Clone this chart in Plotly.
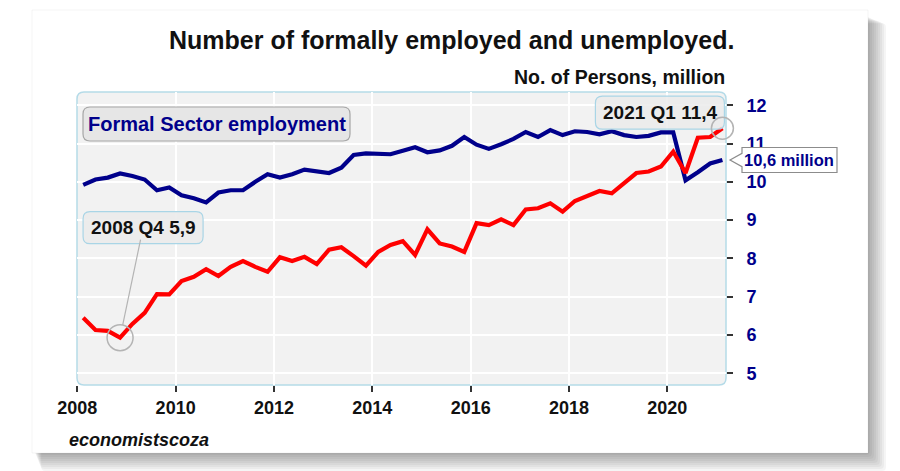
import plotly.graph_objects as go

# quarterly data, 2008 Q1 .. 2021 Q1 (million persons)
periods = [f"{y} Q{q}" for y in range(2008, 2022) for q in range(1, 5)][:53]

formal_employment = [
    9.92, 10.06, 10.11, 10.22,
    10.15, 10.06, 9.78, 9.85,
    9.65, 9.57, 9.46, 9.72,
    9.78, 9.78, 10.00, 10.20,
    10.11, 10.20, 10.32, 10.28,
    10.23, 10.37, 10.70, 10.74,
    10.74, 10.72, 10.81, 10.90,
    10.77, 10.82, 10.94, 11.17,
    10.97, 10.86, 10.98, 11.12,
    11.30, 11.17, 11.35, 11.22,
    11.32, 11.30, 11.24, 11.32,
    11.22, 11.17, 11.20, 11.29,
    11.29, 10.04, 10.25, 10.48,
    10.57,
]
unemployed = [
    6.45, 6.13, 6.11, 5.93,
    6.29, 6.58, 7.07, 7.06,
    7.41, 7.52, 7.72, 7.54,
    7.78, 7.93, 7.78, 7.65,
    8.03, 7.93, 8.04, 7.85,
    8.23, 8.29, 8.06, 7.81,
    8.17, 8.35, 8.45, 8.09,
    8.76, 8.39, 8.31, 8.17,
    8.92, 8.87, 9.02, 8.87,
    9.28, 9.31, 9.44, 9.22,
    9.50, 9.63, 9.76, 9.70,
    9.97, 10.23, 10.27, 10.40,
    10.79, 10.23, 11.15, 11.17,
    11.40,
]
x_ticks = [2008, 2010, 2012, 2014, 2016, 2018, 2020]
y_ticks = [5, 6, 7, 8, 9, 10, 11, 12]

x_pos = [int(p[:4]) + (int(p[-1]) - 1) / 4 + 0.12 for p in periods]

X_RANGE = [2007.994, 2021.193]
Y_RANGE = [4.695, 12.345]
W, H = 900, 471
L, R, T, B = 77, 174, 92, 86
PW, PH = W - L - R, H - T - B

NAVY = "#00008b"
FONT = "Liberation Sans, Arial, sans-serif"


def fx(v):
    return (v - X_RANGE[0]) / (X_RANGE[1] - X_RANGE[0])


def fy(v):
    return (v - Y_RANGE[0]) / (Y_RANGE[1] - Y_RANGE[0])


def px(a):
    return (a - L) / PW


def py(b):
    return (T + PH - b) / PH


def rbox(x0, y0, x1, y1, r):
    # rounded rectangle path, pixel offsets, y up
    return (f"M{x0 + r},{y0} L{x1 - r},{y0} Q{x1},{y0} {x1},{y0 + r} "
            f"L{x1},{y1 - r} Q{x1},{y1} {x1 - r},{y1} L{x0 + r},{y1} "
            f"Q{x0},{y1} {x0},{y1 - r} L{x0},{y0 + r} Q{x0},{y0} {x0 + r},{y0} Z")


def screen_box(a, b, c, d, r):
    # box given in page pixels, relative to plot top-left
    return rbox(a - L, T - d, c - L, T - b, r)


def pix_shape(path, xa, ya, **kw):
    return dict(type="path", path=path, xref="paper", yref="paper",
                xsizemode="pixel", ysizemode="pixel", xanchor=xa, yanchor=ya, **kw)


shapes = []
# card shadow + card
for d in range(2, 20, 2):
    shapes.append(pix_shape(screen_box(34 + d * 0.4, 16 + d * 0.4, 868 + d, 453 + d, 4), 0, 1,
                            fillcolor="rgba(0,0,0,0.04)", line_width=0, layer="below"))
shapes.append(pix_shape(screen_box(32, 10, 868, 453, 0), 0, 1,
                        fillcolor="white", line=dict(color="rgba(0,0,0,0.04)", width=1), layer="below"))
# plot background
shapes.append(pix_shape(screen_box(L, T, L + PW, T + PH, 7), 0, 1,
                        fillcolor="#f2f2f2", line=dict(color="#b5dbe8", width=1.5), layer="below"))
# series label box
shapes.append(pix_shape(screen_box(83, 107, 350, 141, 7), 0, 1,
                        fillcolor="#e6e6e6", line=dict(color="#a6a6a6", width=1.2), layer="above"))
# 2008 Q4 callout
i_min = 3
shapes.append(pix_shape(rbox(-37, 94, 83, 126, 7), fx(x_pos[i_min]), fy(unemployed[i_min]),
                        fillcolor="rgba(235,235,235,0.9)", line=dict(color="#a9d5e6", width=1.2), layer="above"))
shapes.append(dict(type="circle", xref="paper", yref="paper", xsizemode="pixel", ysizemode="pixel",
                   xanchor=fx(x_pos[i_min]), yanchor=fy(unemployed[i_min]), x0=-13, x1=13, y0=-13, y1=13,
                   line=dict(color="#b4b4b4", width=1.5)))
# 2021 Q1 callout
shapes.append(pix_shape(rbox(-127, -1, 2, 32, 7), fx(x_pos[-1]), fy(unemployed[-1]),
                        fillcolor="rgba(235,235,235,0.85)", line=dict(color="#a9d5e6", width=1.2), layer="above"))
shapes.append(dict(type="circle", xref="paper", yref="paper", xsizemode="pixel", ysizemode="pixel",
                   xanchor=fx(x_pos[-1]), yanchor=fy(unemployed[-1]), x0=-11, x1=11, y0=-11, y1=11,
                   line=dict(color="#b4b4b4", width=1.5)))
# latest employment bubble
shapes.append(pix_shape("M4,0 L16,6.7 L16,12.5 L111,12.5 L111,-12.5 L16,-12.5 L16,-6.7 Z",
                        1, fy(formal_employment[-1]),
                        fillcolor="white", line=dict(color="#8c8c8c", width=1.2), layer="above"))

fig = go.Figure()
fig.add_trace(go.Scatter(x=x_pos, y=formal_employment, mode="lines",
                         line=dict(color=NAVY, width=4.2), name="Formal Sector employment"))
fig.add_trace(go.Scatter(x=x_pos, y=unemployed, mode="lines",
                         line=dict(color="#ff0000", width=4.2), name="Unemployed"))


def fmt(v):
    return f"{v:.1f}".replace(".", ",")


def bold(size, color="#111"):
    return dict(family=FONT, size=size, color=color, weight="bold")


annotations = [
    dict(text="Number of formally employed and unemployed.", xref="paper", yref="paper",
         x=px(451), y=py(40), xanchor="center", yanchor="middle", showarrow=False, font=bold(25)),
    dict(text="No. of Persons, million", xref="paper", yref="paper",
         x=px(727), y=py(77), xanchor="right", yanchor="middle", showarrow=False, font=bold(19.5)),
    dict(text="Formal Sector employment", xref="paper", yref="paper",
         x=px(216.5), y=py(124), xanchor="center", yanchor="middle", showarrow=False,
         font=bold(20, NAVY)),
    dict(text=f"{periods[i_min]} {fmt(unemployed[i_min])}", x=x_pos[i_min], y=unemployed[i_min],
         ax=23, ay=-110, showarrow=True, arrowhead=0, arrowwidth=1.2, arrowcolor="#b4b4b4",
         standoff=13, font=bold(19)),
    dict(text=f"{periods[-1]} {fmt(unemployed[-1])}", x=x_pos[-1], y=unemployed[-1],
         xshift=-62, yshift=16, xanchor="center", yanchor="middle", showarrow=False, font=bold(19)),
    dict(text=f"{fmt(formal_employment[-1])} million", xref="paper", x=1, y=formal_employment[-1],
         xshift=63, xanchor="center", yanchor="middle", showarrow=False, font=bold(16.5, NAVY)),
    dict(text="<i>economistscoza</i>", xref="paper", yref="paper",
         x=px(67), y=py(440), xanchor="left", yanchor="middle", showarrow=False, font=bold(18)),
]

fig.update_layout(
    width=W, height=H,
    margin=dict(l=L, r=R, t=T, b=B),
    paper_bgcolor="white",
    plot_bgcolor="rgba(0,0,0,0)",
    showlegend=False,
    shapes=shapes,
    annotations=annotations,
    xaxis=dict(range=X_RANGE, tickvals=x_ticks, showgrid=True, gridcolor="white", gridwidth=1.5,
               zeroline=False, showline=False, ticks="outside", ticklen=6, tickwidth=2, tickcolor="#333",
               tickfont=bold(18)),
    yaxis=dict(range=Y_RANGE, tickvals=y_ticks, side="right", showgrid=True, gridcolor="white",
               gridwidth=1.5, zeroline=False, showline=False, ticks="outside", ticklen=6, tickwidth=2,
               tickcolor="#333", ticklabelstandoff=10,
               tickfont=bold(18, NAVY)),
)

fig.write_html("out.html", config={"displayModeBar": False},
               post_script="document.body.style.margin='0';")
